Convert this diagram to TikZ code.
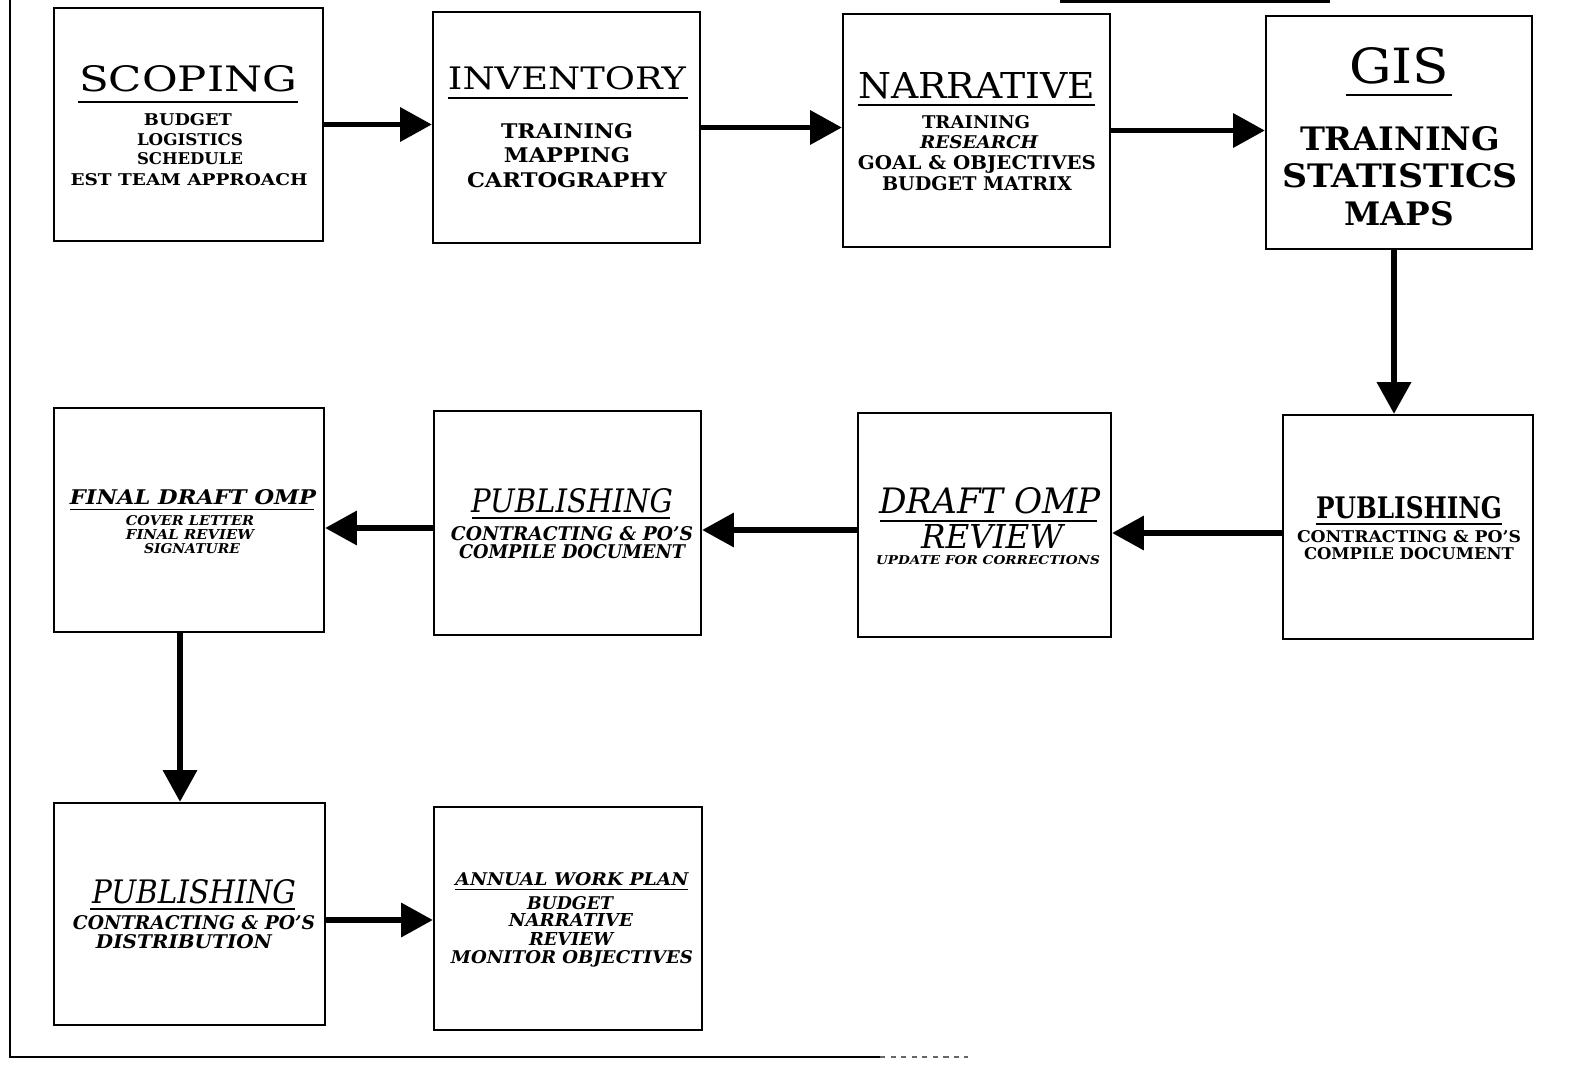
\documentclass[tikz,border=0pt]{standalone}
\usepackage{fontspec}
\setmainfont{DejaVu Serif}
\usepackage{graphicx}
\usetikzlibrary{arrows.meta}

% one drawing unit = 0.02cm
\newlength\pxu
\setlength\pxu{0.02cm}
% a line of text stretched to a given width and cap height (in drawing units)
\newcommand\fitline[3]{\resizebox{#1\pxu}{#2\pxu}{#3}}

\tikzset{
  box/.style={draw, line width=1.4pt, inner sep=0pt},
  lbl/.style={inner sep=0pt, anchor=base},
  rulest/.style={line width=1.1pt},
  arr/.style={line width=3pt, -{Triangle[length=18pt,width=19pt]}},
  frame/.style={line width=1.5pt}
}

\begin{document}
\begin{tikzpicture}[x=0.02cm, y=-0.02cm]
\useasboundingbox (0,0) rectangle (1573,1068);

% ---- outer frame fragments
\draw[frame] (10,0) -- (10,1057) -- (880,1057);
\draw[frame, black!60, dashed] (880,1057) -- (968,1057);
\draw[frame, line width=1.8pt] (1060,1) -- (1330,1);

% ---- boxes
\node[box, minimum width=5.38cm, minimum height=4.66cm] (scop) at (188.5,124.5) {};
\node[box, minimum width=5.34cm, minimum height=4.62cm] (inv)  at (566.5,127.5) {};
\node[box, minimum width=5.34cm, minimum height=4.66cm] (nar)  at (976.5,130.5) {};
\node[box, minimum width=5.32cm, minimum height=4.66cm] (gis)  at (1399,132.5) {};
\node[box, minimum width=5.40cm, minimum height=4.48cm] (fin)  at (189,520) {};
\node[box, minimum width=5.34cm, minimum height=4.48cm] (pubA) at (567.5,523) {};
\node[box, minimum width=5.06cm, minimum height=4.48cm] (dft)  at (984.5,525) {};
\node[box, minimum width=5.00cm, minimum height=4.48cm] (pubB) at (1408,527) {};
\node[box, minimum width=5.42cm, minimum height=4.44cm] (pubC) at (189.5,914) {};
\node[box, minimum width=5.36cm, minimum height=4.46cm] (awp)  at (568,918.5) {};

% ---- SCOPING
\node[lbl] (scopT) at (188,92) {\fitline{218}{26}{SCOPING}};
\draw[rulest] (78,102) -- (298,102);
\node[lbl] (scop1) at (188,126) {\fitline{88}{12}{\bfseries BUDGET}};
\node[lbl] (scop2) at (190,146) {\fitline{106}{12}{\bfseries LOGISTICS}};
\node[lbl] (scop3) at (190,165) {\fitline{106}{12}{\bfseries SCHEDULE}};
\node[lbl] (scop4) at (189,186) {\fitline{237}{12}{\bfseries EST TEAM APPROACH}};

% ---- INVENTORY
\node[lbl] (invT) at (567,90) {\fitline{238}{23}{INVENTORY}};
\draw[rulest] (448,98) -- (688,98);
\node[lbl] (inv1) at (567,138.5) {\fitline{132}{15}{\bfseries TRAINING}};
\node[lbl] (inv2) at (567,162.5) {\fitline{126}{15}{\bfseries MAPPING}};
\node[lbl] (inv3) at (567,187.5) {\fitline{200}{15}{\bfseries CARTOGRAPHY}};

% ---- NARRATIVE
\node[lbl] (narT) at (976.5,98) {\fitline{237}{26}{NARRATIVE}};
\draw[rulest] (858,105) -- (1095,105);
\node[lbl] (nar1) at (976,128.5) {\fitline{108}{13}{\bfseries TRAINING}};
\node[lbl] (nar2) at (979,148.5) {\fitline{118}{13}{\bfseries\itshape RESEARCH}};
\node[lbl] (nar3) at (977,170) {\fitline{238}{14}{\bfseries GOAL \& OBJECTIVES}};
\node[lbl] (nar4) at (977,191) {\fitline{190}{14}{\bfseries BUDGET MATRIX}};

% ---- GIS
\node[lbl] (gisT) at (1399,84) {\fitline{100}{36}{GIS}};
\draw[rulest] (1346,95) -- (1452,95);
\node[lbl] (gis1) at (1400,151) {\fitline{200}{24}{\bfseries TRAINING}};
\node[lbl] (gis2) at (1400,188) {\fitline{236}{24}{\bfseries STATISTICS}};
\node[lbl] (gis3) at (1399,225) {\fitline{110}{24}{\bfseries MAPS}};

% ---- FINAL DRAFT OMP
\node[lbl] (finT) at (193,504.5) {\fitline{246}{15}{\bfseries\itshape FINAL DRAFT OMP}};
\draw[rulest] (70,509.5) -- (314,509.5);
\node[lbl] (fin1) at (190,525) {\fitline{128}{10}{\bfseries\itshape COVER LETTER}};
\node[lbl] (fin2) at (190,539) {\fitline{128}{10}{\bfseries\itshape FINAL REVIEW}};
\node[lbl] (fin3) at (192,553) {\fitline{96}{10}{\bfseries\itshape SIGNATURE}};

% ---- PUBLISHING (second row, middle)
\node[lbl] (pubAT) at (572,512.5) {\fitline{202}{24}{\itshape PUBLISHING}};
\draw[rulest] (472,518) -- (670,518);
\node[lbl] (pubA1) at (572,540) {\fitline{242}{14}{\bfseries\itshape CONTRACTING \& PO'S}};
\node[lbl] (pubA2) at (572,558) {\fitline{226}{14}{\bfseries\itshape COMPILE DOCUMENT}};

% ---- DRAFT OMP REVIEW
\node[lbl] (dftT) at (990,513.5) {\fitline{222}{26}{\itshape DRAFT OMP}};
\draw[rulest] (880,521) -- (1097,521);
\node[lbl] (dft1) at (992,548.5) {\fitline{142}{24}{\itshape REVIEW}};
\node[lbl] (dft2) at (988,564.5) {\fitline{224}{9}{\bfseries\itshape UPDATE FOR CORRECTIONS}};

% ---- PUBLISHING (second row, right)
\node[lbl] (pubBT) at (1409,518.5) {\fitline{186}{22}{\bfseries PUBLISHING}};
\draw[rulest] (1316,524) -- (1502,524);
\node[lbl] (pubB1) at (1409,542) {\fitline{224}{12}{\bfseries CONTRACTING \& PO'S}};
\node[lbl] (pubB2) at (1409,559) {\fitline{210}{12}{\bfseries COMPILE DOCUMENT}};

% ---- PUBLISHING (third row)
\node[lbl] (pubCT) at (194,903.5) {\fitline{204}{24}{\itshape PUBLISHING}};
\draw[rulest] (90,909) -- (295,909);
\node[lbl] (pubC1) at (194,929) {\fitline{242}{14}{\bfseries\itshape CONTRACTING \& PO'S}};
\node[lbl] (pubC2) at (184,948) {\fitline{176}{14}{\bfseries\itshape DISTRIBUTION}};

% ---- ANNUAL WORK PLAN
\node[lbl] (awpT) at (572,885.5) {\fitline{233}{13}{\bfseries\itshape ANNUAL WORK PLAN}};
\draw[rulest] (455,889.5) -- (688,889.5);
\node[lbl] (awp1) at (570,909.5) {\fitline{86}{13}{\bfseries\itshape BUDGET}};
\node[lbl] (awp2) at (571,926.5) {\fitline{124}{13}{\bfseries\itshape NARRATIVE}};
\node[lbl] (awp3) at (571,945.5) {\fitline{84}{13}{\bfseries\itshape REVIEW}};
\node[lbl] (awp4) at (572,963.5) {\fitline{242}{13}{\bfseries\itshape MONITOR OBJECTIVES}};

% ---- flow arrows
\draw[arr] (scop.east) -- (scop.east -| inv.west);
\draw[arr] (inv.east) -- (inv.east -| nar.west);
\draw[arr] (nar.east) -- (nar.east -| gis.west);
\draw[arr] ([xshift=-0.1cm]gis.south) -- ([xshift=-0.1cm]gis.south |- pubB.north);
\draw[arr] ([yshift=-0.12cm]pubB.west) -- ([yshift=-0.12cm]pubB.west -| dft.east);
\draw[arr] ([yshift=-0.1cm]dft.west) -- ([yshift=-0.1cm]dft.west -| pubA.east);
\draw[arr] ([yshift=-0.1cm]pubA.west) -- ([yshift=-0.1cm]pubA.west -| fin.east);
\draw[arr] ([xshift=-0.18cm]fin.south) -- ([xshift=-0.18cm]fin.south |- pubC.north);
\draw[arr] ([yshift=-0.12cm]pubC.east) -- ([yshift=-0.12cm]pubC.east -| awp.west);
\end{tikzpicture}
\end{document}
